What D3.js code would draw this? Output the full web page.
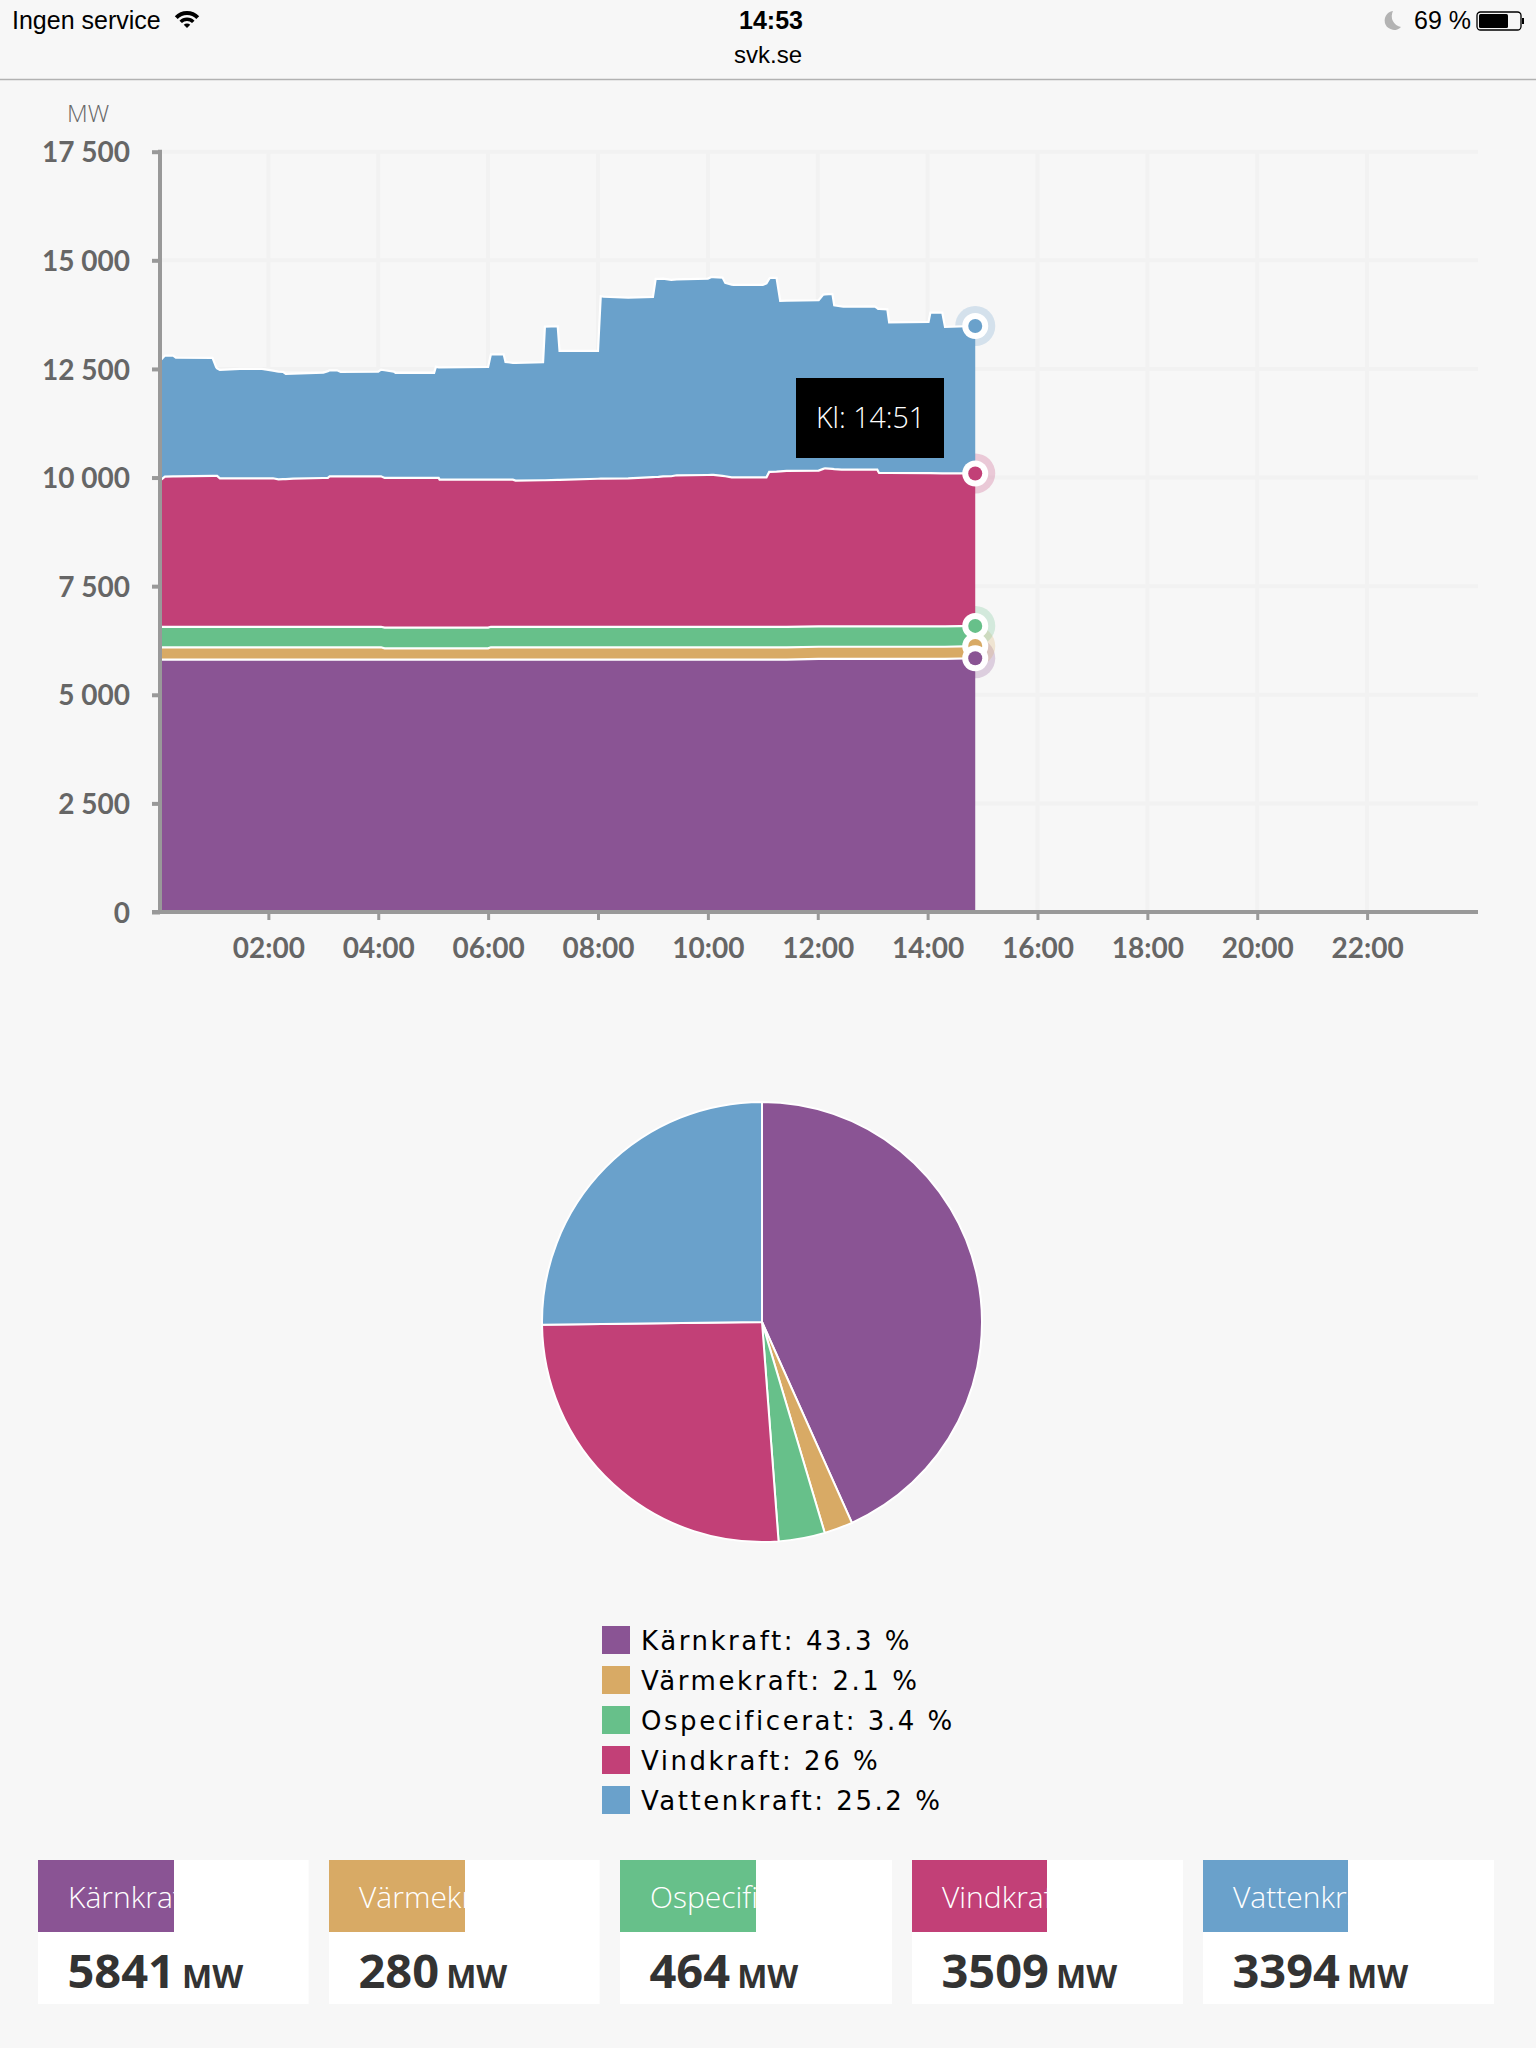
<!DOCTYPE html>
<html><head><meta charset="utf-8">
<script src="https://cdn.jsdelivr.net/npm/d3@7/dist/d3.min.js"></script>
<style>html,body{margin:0;padding:0;background:#f7f7f7}svg{display:block}</style>
</head><body><svg id="c" width="1536" height="2048"></svg>
<script>
const minutes=[0,7,16,19,59,63,64,67,89,113,120,125,131,136,139,147,180,185,187,195,199,240,243,247,257,259,301,303,306,307,360,363,377,379,387,390,420,422,436,438,480,483,486,513,540,543,546,551,560,566,600,604,606,616,619,626,628,660,664,667,668,675,679,686,721,726,728,736,738,746,748,782,785,786,787,796,798,841,843,856,859,892];
const karnkraft=[5810,5810,5810,5810,5810,5810,5810,5810,5810,5810,5810,5810,5810,5810,5810,5810,5810,5810,5810,5810,5810,5810,5810,5810,5810,5810,5810,5810,5810,5810,5810,5810,5810,5810,5810,5810,5810,5810,5810,5810,5810,5810,5810,5810,5810,5810,5810,5810,5810,5810,5810,5810,5810,5810,5810,5810,5810,5810,5810,5810,5810,5810,5810,5810,5825,5825,5825,5825,5825,5825,5825,5825,5825,5825,5825,5825,5825,5825,5825,5825,5825,5841];
const varmekraft=[283,283,283,283,283,283,283,283,283,283,283,283,283,283,283,283,283,283,283,283,283,283,283,260,260,260,260,260,260,260,260,283,283,283,283,283,283,283,283,283,283,283,283,283,283,283,283,283,283,283,283,283,283,283,283,283,283,283,283,283,283,283,283,283,280,280,280,280,280,280,280,280,280,280,280,280,280,280,280,280,280,280];
const ospecificerat=[472,472,472,472,472,472,472,472,472,472,472,472,472,472,472,472,472,472,472,472,472,472,472,475,475,475,475,475,475,475,475,472,472,472,472,472,472,472,472,472,472,472,472,472,472,472,472,472,472,472,472,472,472,472,472,472,472,472,472,472,472,472,472,472,470,470,470,470,470,470,470,470,470,470,470,470,470,470,470,470,470,464];
const vindkraft=[3335,3456,3460,3460,3472,3472,3472,3418,3418,3418,3418,3418,3395,3398,3400,3410,3425,3426,3464,3464,3464,3464,3464,3446,3446,3446,3446,3446,3446,3407,3407,3387,3387,3387,3387,3364,3373,3373,3380,3380,3407,3409,3410,3418,3445,3447,3449,3460,3465,3487,3493,3495,3495,3475,3465,3441,3441,3441,3441,3564,3565,3570,3575,3587,3585,3625,3638,3625,3620,3608,3608,3608,3608,3565,3531,3530,3530,3525,3525,3523,3523,3509];
const vattenkraft=[2750,2786,2782,2736,2716,2501,2473,2494,2517,2517,2494,2477,2480,2468,2420,2417,2425,2459,2440,2440,2402,2410,2456,2479,2448,2417,2417,2563,2547,2586,2594,2885,2885,2709,2688,2709,2715,3536,3537,2969,2942,4199,4190,4159,4147,4560,4561,4554,4519,4508,4521,4558,4555,4562,4450,4434,4428,4428,4464,4446,4465,4460,3925,3918,3921,4011,4002,4026,3770,3757,3752,3759,3717,3741,3774,3768,3469,3482,3697,3699,3369,3394];
const seriesNames=["Kärnkraft","Värmekraft","Ospecificerat","Vindkraft","Vattenkraft"];
const seriesColors=["#8a5494","#d8aa65","#67c08a","#c24077","#6aa1cb"];
const piePercent=[43.3,2.1,3.4,26,25.2];
const pieLabels=["43.3","2.1","3.4","26","25.2"];
const latestMW=[5841,280,464,3509,3394];
const yTicks=[0,2500,5000,7500,10000,12500,15000,17500];
const xTicks=[120,240,360,480,600,720,840,960,1080,1200,1320];
const tooltipText="Kl: 14:51";

const FONT="'Open Sans',sans-serif", TICKFONT="Lato,'Open Sans',sans-serif", SYS="'Liberation Sans',sans-serif", LEG="'DejaVu Sans',sans-serif";
const svg=d3.select("#c");
const x=d3.scaleLinear().domain([0,1440]).range([158.5,1477]);
const y=d3.scaleLinear().domain([0,17500]).range([912,151.7]);
const rows=minutes.map((m,i)=>({m,0:karnkraft[i],1:varmekraft[i],2:ospecificerat[i],3:vindkraft[i],4:vattenkraft[i]}));
const stacked=d3.stack().keys([0,1,2,3,4])(rows);

// status bar
svg.append("rect").attr("width",1536).attr("height",79).attr("fill","#f7f7f7");
svg.append("line").attr("x1",0).attr("x2",1536).attr("y1",79.5).attr("y2",79.5).attr("stroke","#b2b2b2").attr("stroke-width",1.5);
const sb=(t,xx,yy,a,w,s)=>svg.append("text").attr("x",xx).attr("y",yy).attr("text-anchor",a).attr("font-family",SYS).attr("font-size",s||25).attr("font-weight",w||400).attr("fill","#000").text(t);
sb("Ingen service",12,29,"start");
sb("14:53",771,29,"middle",700);
sb("svk.se",768,63,"middle",400,24);
sb("69 %",1414,29,"start");
const wifi=svg.append("g").attr("transform","translate(187,28)");
[[13,17],[7,10.5]].forEach(r=>wifi.append("path").attr("d",d3.arc()({innerRadius:r[0],outerRadius:r[1],startAngle:-0.8,endAngle:0.8})).attr("fill","#000"));
wifi.append("path").attr("d",d3.arc()({innerRadius:0,outerRadius:4.5,startAngle:-0.8,endAngle:0.8})).attr("fill","#000");
svg.append("path").attr("d","M1393,11 A9.5,9.5 0 1 0 1401,27 A11,11 0 0 1 1393,11 Z").attr("fill","#b3b3b3");
svg.append("rect").attr("x",1477).attr("y",12).attr("width",44).attr("height",18).attr("rx",3.5).attr("fill","none").attr("stroke","#000").attr("stroke-width",1.3);
svg.append("rect").attr("x",1479).attr("y",14).attr("width",29).attr("height",14).attr("rx",1.5).attr("fill","#000");
svg.append("rect").attr("x",1522).attr("y",18).attr("width",2).attr("height",6).attr("fill","#000");

// grid
const grid=svg.append("g").attr("stroke","#f2f2f2").attr("stroke-width",4);
yTicks.slice(1).forEach(v=>grid.append("line").attr("x1",162).attr("x2",1478).attr("y1",y(v)).attr("y2",y(v)));
xTicks.forEach(v=>grid.append("line").attr("x1",x(v)).attr("x2",x(v)).attr("y1",y(17500)).attr("y2",910));

// halos sit behind the areas
const lastI=minutes.length-1;
stacked.forEach((s,i)=>svg.append("circle").attr("cx",x(minutes[lastI])).attr("cy",y(s[lastI][1])).attr("r",20).attr("fill",seriesColors[i]).attr("opacity",0.25));

// areas
const area=d3.area().x(d=>x(d.data.m)).y0(d=>y(d[0])).y1(d=>y(d[1]));
const topLine=d3.line().x(d=>x(d.data.m)).y(d=>y(d[1]));
stacked.forEach((s,i)=>svg.append("path").attr("d",area(s)).attr("fill",seriesColors[i]));
stacked.forEach(s=>svg.append("path").attr("d",topLine(s)).attr("fill","none").attr("stroke","#fff").attr("stroke-width",2.2));

// axes
const yAxis=svg.append("g").attr("transform","translate(160,0)").call(d3.axisLeft(y).tickValues(yTicks).tickSize(8).tickPadding(22).tickFormat(d=>d3.format(",")(d).replace(","," ")));
yAxis.selectAll("line").attr("stroke","#999").attr("stroke-width",4);
yAxis.select(".domain").attr("stroke","#999").attr("stroke-width",4).attr("d",`M0,${y(17500)-2}V912`);
yAxis.selectAll("text").attr("font-family",TICKFONT).attr("font-size",28).attr("font-weight",700).attr("fill","#666").attr("dy","0.36em");
const xAxis=svg.append("g").attr("transform","translate(0,912)").call(d3.axisBottom(x).tickValues(xTicks).tickSize(8).tickPadding(18).tickFormat(d=>d3.format("02")(d/60)+":00"));
xAxis.selectAll("line").attr("stroke","#999").attr("stroke-width",3);
xAxis.select(".domain").attr("stroke","#999").attr("stroke-width",4).attr("d","M152,0H1478");
xAxis.selectAll("text").attr("font-family",TICKFONT).attr("font-size",28).attr("font-weight",700).attr("fill","#666");
svg.append("text").attr("x",67).attr("y",122).attr("font-family",FONT).attr("font-size",24).attr("font-weight",300).attr("fill","#666").text("MW");

// end dots
[4,3,2,1,0].forEach(i=>{const s=stacked[i],cx=x(minutes[lastI]),cy=y(s[lastI][1]);
 svg.append("circle").attr("cx",cx).attr("cy",cy).attr("r",13).attr("fill","#fff");
 svg.append("circle").attr("cx",cx).attr("cy",cy).attr("r",7).attr("fill",seriesColors[i]);});

// tooltip
svg.append("rect").attr("x",796).attr("y",378).attr("width",148).attr("height",80).attr("fill","#000");
svg.append("text").attr("x",870.5).attr("y",428).attr("text-anchor","middle").attr("font-family",FONT).attr("font-size",28.5).attr("font-weight",300).attr("fill","#fff").text(tooltipText);

// pie
const pieG=svg.append("g").attr("transform","translate(762,1322)");
pieG.selectAll("path").data(d3.pie().sort(null)(piePercent)).join("path")
 .attr("d",d3.arc().innerRadius(0).outerRadius(220)).attr("fill",(d,i)=>seriesColors[i]).attr("stroke","#fff").attr("stroke-width",2);

// legend
const legY=d3.scalePoint().domain(d3.range(5)).range([1626,1786]);
seriesNames.forEach((n,i)=>{
 svg.append("rect").attr("x",602).attr("y",legY(i)).attr("width",28).attr("height",28).attr("fill",seriesColors[i]);
 svg.append("text").attr("x",641).attr("y",legY(i)+24).attr("font-family",LEG).attr("font-size",26).attr("letter-spacing",2.55).attr("fill","#000").text(`${n}: ${pieLabels[i]} %`);
});

// cards
const cardX=[38,329,620,912,1203], cardW=[270.6,270.6,272,271,291], tabW=[136,136,136,135,145];
seriesNames.forEach((n,i)=>{
 const g=svg.append("g").attr("transform",`translate(${cardX[i]},1860)`);
 g.append("rect").attr("width",cardW[i]).attr("height",144).attr("fill","#fff");
 g.append("rect").attr("width",tabW[i]).attr("height",72).attr("fill",seriesColors[i]);
 const cp=svg.append("clipPath").attr("id","tab"+i); cp.append("rect").attr("width",tabW[i]).attr("height",72);
 g.append("text").attr("x",30).attr("y",48).attr("clip-path",`url(#tab${i})`).attr("font-family",FONT).attr("font-size",30).attr("font-weight",300).attr("fill","#fff").text(n);
 const v=g.append("text").attr("x",29.5).attr("y",128).attr("font-family",FONT).attr("fill","#333").attr("font-weight",700);
 v.append("tspan").attr("font-size",47).text(latestMW[i]);
 v.append("tspan").attr("font-size",32).attr("dx",7).text("MW");
});
</script></body></html>
